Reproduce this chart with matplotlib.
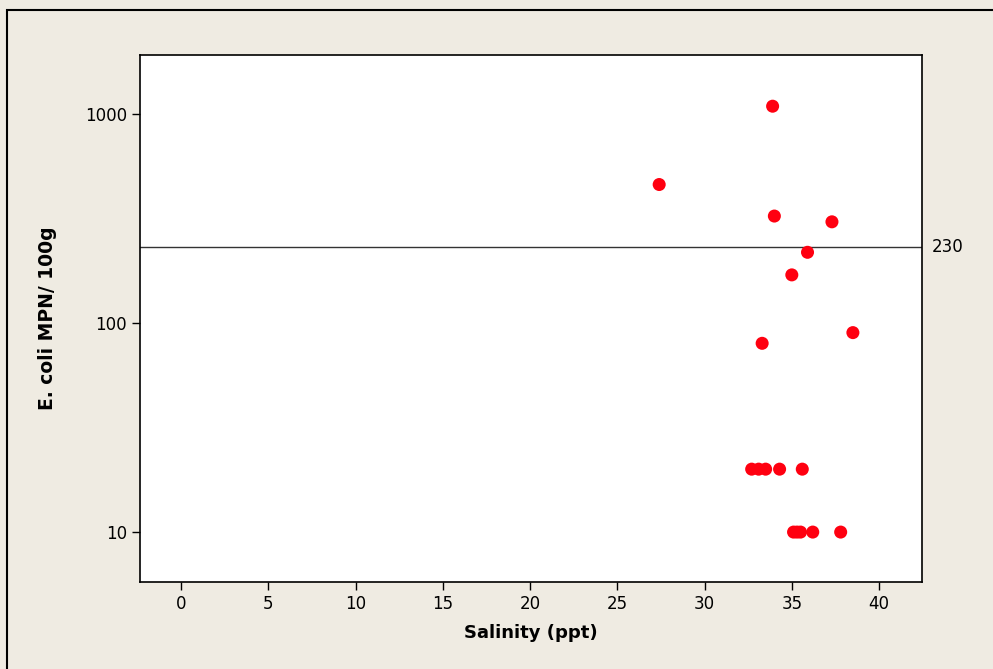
import matplotlib
matplotlib.use("Agg")
import matplotlib.pyplot as plt
from matplotlib.patches import Rectangle

salinity = [33.9, 27.4, 34.0, 37.3, 35.9, 35.0, 38.5, 33.3,
            32.7, 33.1, 33.5, 34.3, 35.6,
            35.1, 35.3, 35.5, 36.2, 37.8]
ecoli = [1090, 460, 325, 305, 218, 170, 90, 80,
         20, 20, 20, 20, 20,
         10, 10, 10, 10, 10]
threshold = 230
x_ticks = [0, 5, 10, 15, 20, 25, 30, 35, 40]
y_ticks = [10, 100, 1000]

W, H = 993, 669
fig = plt.figure(figsize=(W / 100, H / 100), dpi=100)
fig.patch.set_facecolor("#EFEBE2")
plt.rcParams['font.family'] = ['DejaVu Sans']

# outer frame
fig.add_artist(Rectangle((7 / W, -0.1), 1.2, (H - 10) / H + 0.1, transform=fig.transFigure,
                         fill=False, edgecolor="black", linewidth=1.5))

ax = fig.add_axes([140 / W, 1 - 582 / H, (922 - 140) / W, (582 - 55) / H])
ax.set_facecolor("white")
ax.scatter(salinity, ecoli, s=88, color="#FF0010", edgecolors="none", zorder=3)
ax.axhline(threshold, color="#333333", linewidth=1.0, zorder=2)
ax.set_yscale("log")
ax.set_xlim(-2.35, 42.46)
ax.set_ylim(5.77, 1916)
ax.set_xticks(x_ticks)
ax.set_xticklabels([str(t) for t in x_ticks])
ax.set_yticks(y_ticks)
ax.set_yticklabels([str(t) for t in y_ticks])
ax.minorticks_off()
ax.tick_params(axis="both", direction="out", length=6, width=1, labelsize=12, colors="black")
for sp in ax.spines.values():
    sp.set_linewidth(1.2)
    sp.set_color("black")

ax.text(1.012, threshold, str(threshold), transform=ax.get_yaxis_transform(),
        va="center", ha="left", fontsize=12)

ax.set_xlabel("Salinity (ppt)", fontsize=13, fontweight="bold", labelpad=8)
ax.set_ylabel("E. coli MPN/ 100g", fontsize=13.5, fontweight="bold", labelpad=20)

fig.savefig("out.png", dpi=100, facecolor=fig.get_facecolor())
